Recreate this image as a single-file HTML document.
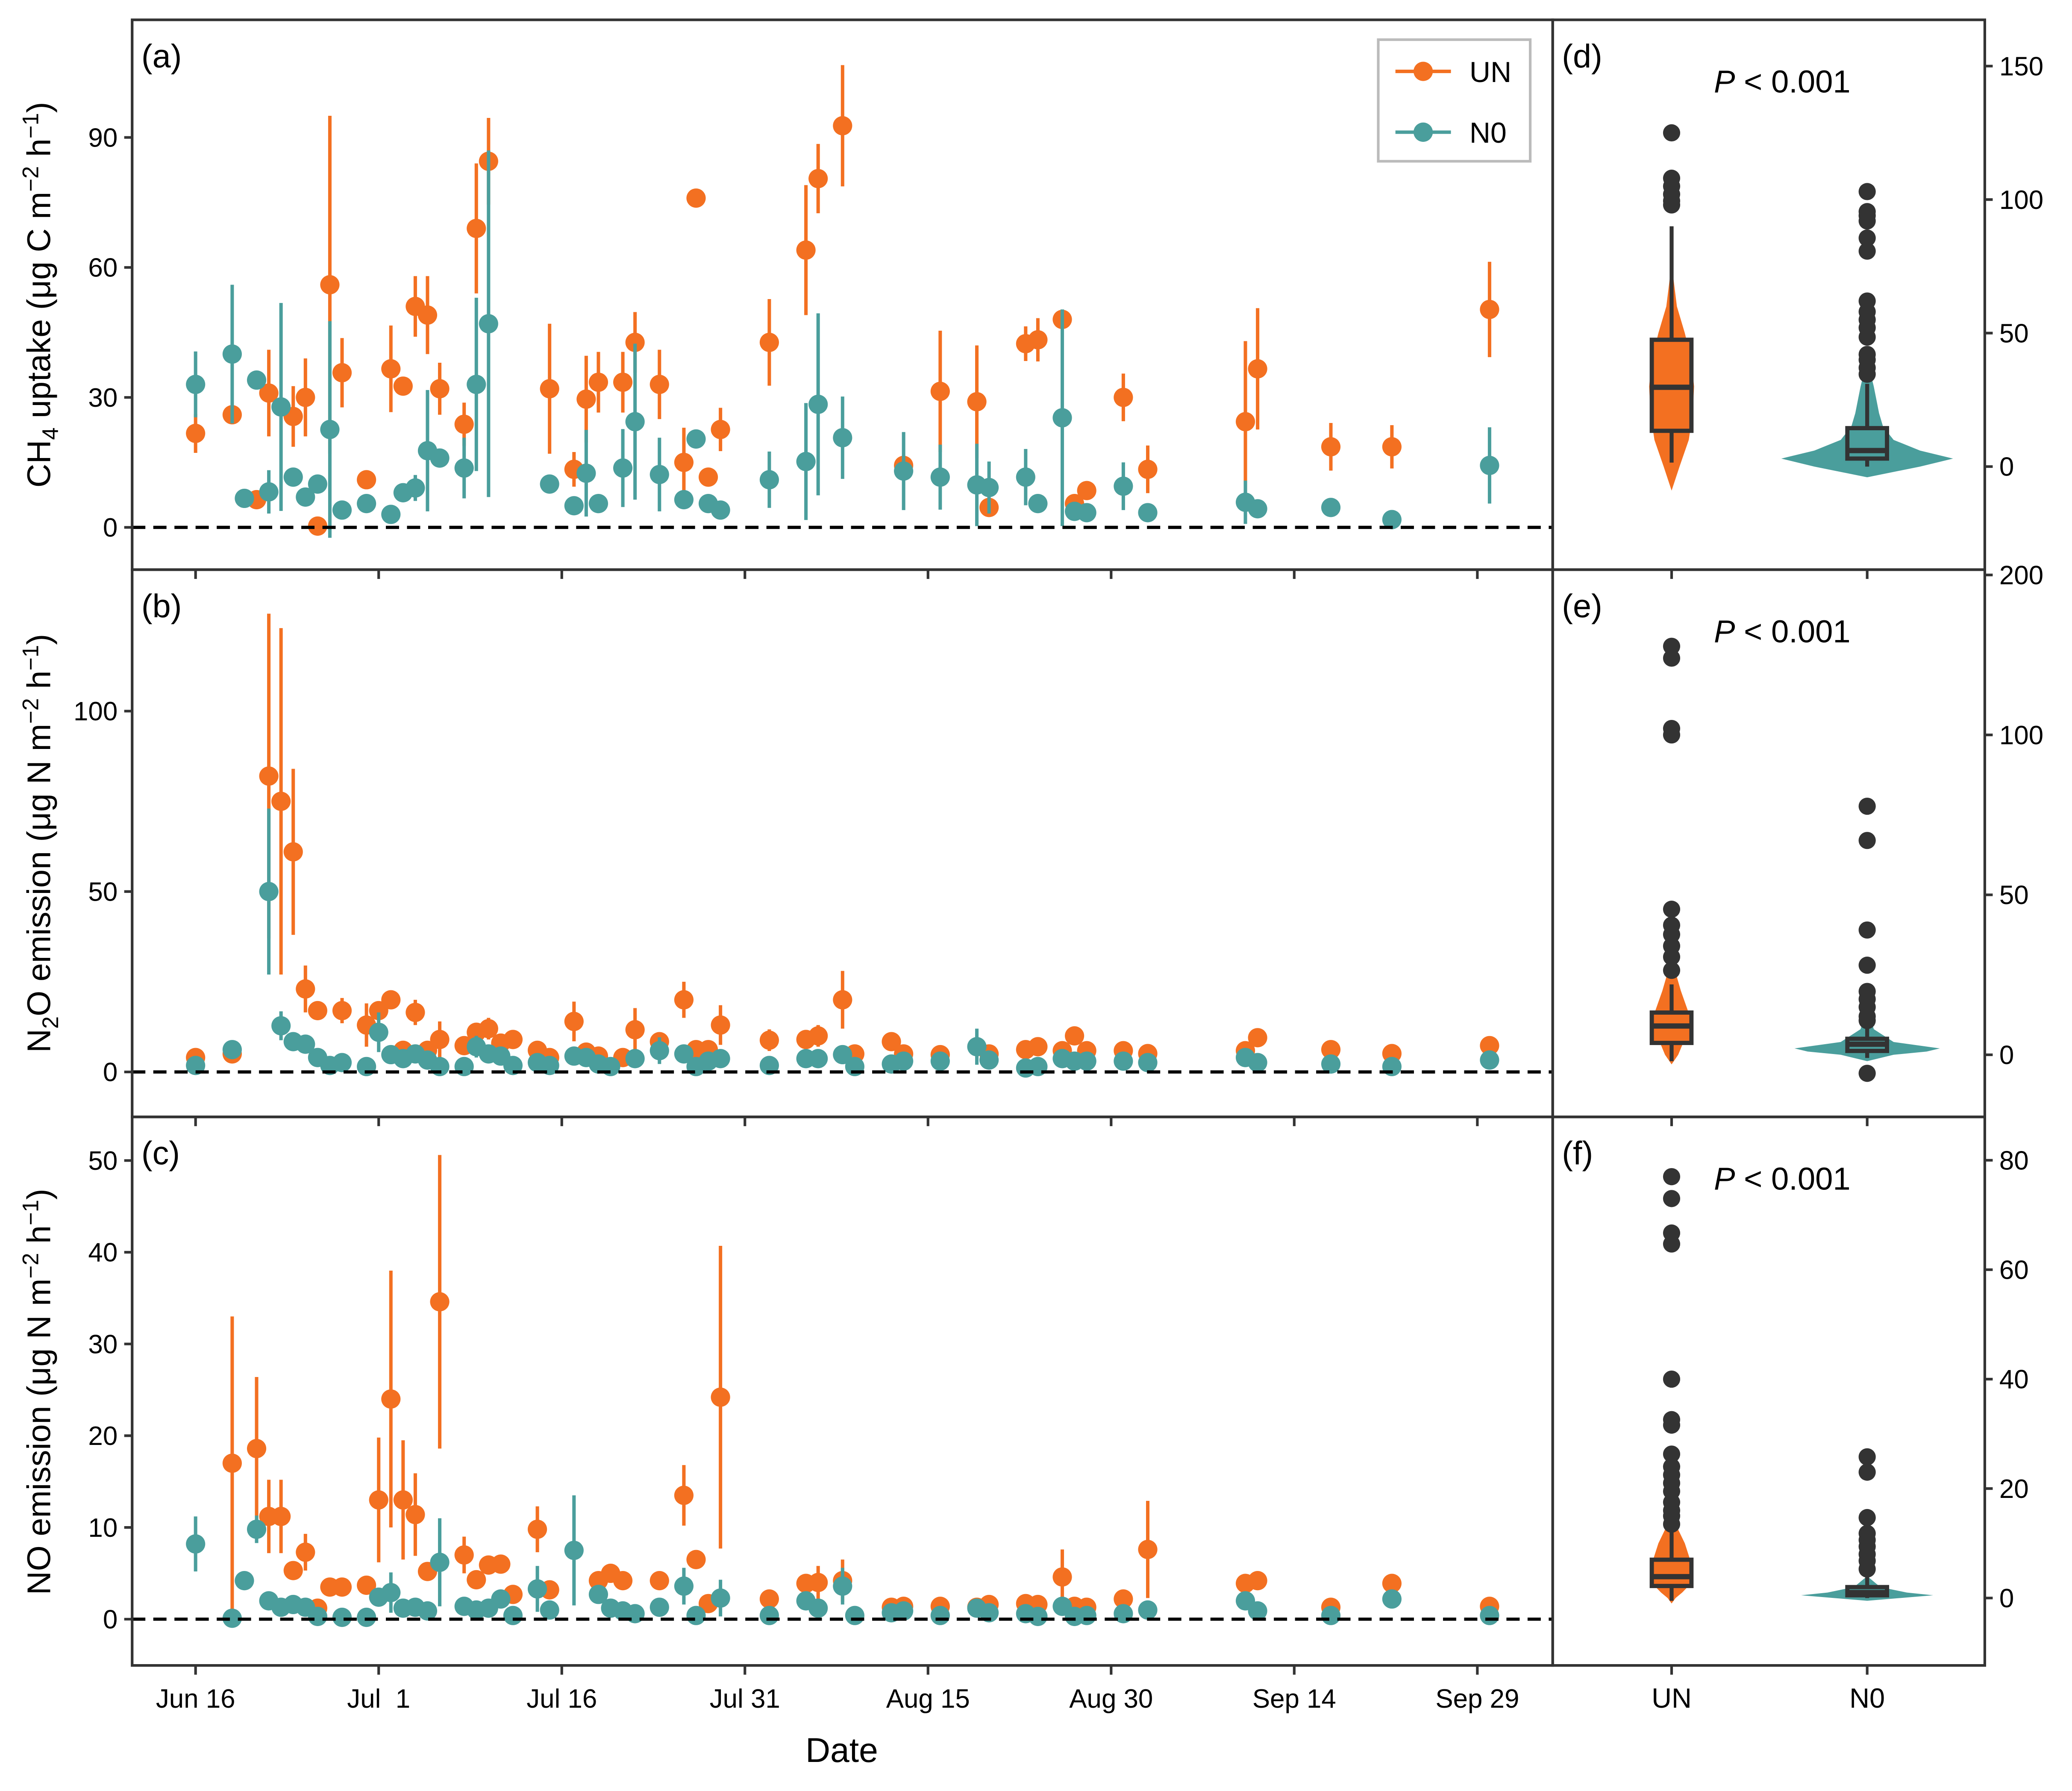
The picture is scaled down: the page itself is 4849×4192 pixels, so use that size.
<!DOCTYPE html>
<html><head><meta charset="utf-8">
<style>
html,body{margin:0;padding:0;background:#fff;}
svg{display:block;}
text{font-family:"Liberation Sans",Arial,sans-serif;fill:#000;}
.pre{white-space:pre;}
</style></head>
<body>
<svg id="chart" width="4849" height="4192" viewBox="0 0 1568 1355" preserveAspectRatio="none" xmlns="http://www.w3.org/2000/svg">
<rect x="0" y="0" width="1568" height="1355" fill="#fff"/>
</svg>
<script>
// ---------- DATA ----------
const xTickLabels = ["Jun 16","Jul  1","Jul 16","Jul 31","Aug 15","Aug 30","Sep 14","Sep 29"];
const xTickDays = [0,15,30,45,60,75,90,105];

const aUNdays = [0,3,5,6,8,9,10,11,12,14,16,17,18,19,20,22,23,24,29,31,32,33,35,36,38,40,41,42,43,47,50,51,53,58,61,64,65,68,69,71,72,73,76,78,86,87,93,98,106];
const aUNvals = [21.7,26,6.4,31,25.6,30,0.3,56,35.7,11,36.6,32.6,51,49,32,23.8,69,84.5,32,13.4,29.6,33.5,33.5,42.7,33,15,76,11.6,22.6,42.7,64,80.5,92.7,14.3,31.4,29,4.6,42.4,43.3,48,5.5,8.5,30,13.4,24.4,36.6,18.6,18.6,50.3];
const aUNerr = [4.5,0,0,10,7,9,0,39,8,0,10,0,7,9,6,5,15,10,15,4,10,7,7,7,8,8,0,0,5,10,15,8,14,0,14,13,0,4,5,0,0,0,5.5,5.5,18.6,14,5.5,5,11];
const aN0days = [0,3,4,5,6,7,8,9,10,11,12,14,16,17,18,19,20,22,23,24,29,31,32,33,35,36,38,40,41,42,43,47,50,51,53,58,61,64,65,68,69,71,72,73,76,78,86,87,93,98,106];
const aN0vals = [33,40,6.7,34,8.2,27.8,11.6,7,10,22.6,4,5.5,3,8,9.1,17.7,16,13.7,33,47,10,5,12.5,5.5,13.7,24.4,12.2,6.4,20.4,5.5,4,11,15.2,28.4,20.7,13,11.6,9.8,9.2,11.6,5.5,25.3,3.7,3.4,9.5,3.4,5.8,4.3,4.6,1.8,14.3];
const aN0err = [7.6,16,0,0,5,24,0,0,0,25,0,0,0,0,3,14,0,7,20,40,0,0,10,0,9,18,8.5,0,0,0,0,6.5,13.5,21,9.5,9,7.5,9.5,6,6.5,0,25,0,0,5.5,0,5,0,0,0,8.8];

const bUNdays = [0,3,6,7,8,9,10,12,14,15,16,17,18,19,20,22,23,24,25,26,28,29,31,32,33,35,36,38,40,41,42,43,47,50,51,53,54,57,58,61,65,68,69,71,72,73,76,78,86,87,93,98,106];
const bUNvals = [4,5,82,75,61,23,17,17,13,17,20,6,16.5,6,9,7.3,11,12,8,9,6,4,14,5.5,4.4,4,11.7,8.4,20,6.2,6.2,13,8.8,9,10,20,5,8.4,5,4.8,5,6.2,7,5.9,10,5.9,5.9,5.1,5.9,9.5,6.2,5.1,7.3];
const bUNerr = [0,0,45,48,23,6.5,0,3.5,6,0,0,0,3.5,0,5,0,0,3,0,0,0,0,5.5,0,0,0,6,0,5,0,0,5.5,3,0,3,8,0,0,0,0,0,0,0,0,0,0,0,0,0,0,0,0,0];
const bN0days = [0,3,6,7,8,9,10,11,12,14,15,16,17,18,19,20,22,23,24,25,26,28,29,31,32,33,34,36,38,40,41,42,43,47,50,51,53,54,57,58,61,64,65,68,69,71,72,73,76,78,86,87,93,98,106];
const bN0vals = [1.8,6.2,50,12.8,8.4,7.7,4,1.8,2.6,1.5,11,4.8,3.7,5,3.3,1.5,1.5,7,5,4.4,1.8,2.6,1.8,4.4,4,2.2,1.5,3.7,5.9,5,1.5,3,3.7,1.8,3.7,3.7,4.8,1.5,2.2,3,3,7,3.3,1.1,1.5,3.7,3,3,3,2.6,4,2.6,2.2,1.5,3.3];
const bN0err = [0,2,23,4,0,0,0,0,0,0,5.5,0,0,0,0,0,0,3,0,0,0,0,0,0,0,0,0,0,3.7,0,0,0,0,0,0,0,0,0,0,0,0,5,0,0,0,0,0,0,0,0,0,0,0,0,0];

const cUNdays = [3,5,6,7,8,9,10,11,12,14,15,16,17,18,19,20,22,23,24,25,26,28,29,33,34,35,38,40,41,42,43,47,50,51,53,57,58,61,64,65,68,69,71,72,73,76,78,86,87,93,98,106];
const cUNvals = [17,18.6,11.2,11.2,5.3,7.3,1.2,3.5,3.5,3.7,13,24,13,11.4,5.2,34.6,7,4.3,5.9,6,2.7,9.8,3.2,4.2,5,4.2,4.2,13.5,6.5,1.7,24.2,2.2,3.9,4,4.2,1.3,1.4,1.4,1.3,1.6,1.7,1.6,4.6,1.4,1.3,2.2,7.6,3.9,4.2,1.3,3.9,1.4];
const cUNerr = [16,7.8,4,4,0,2,0,0,0,0,6.8,14,6.5,4.5,0,16,2,0,1,1,0,2.5,0,0,0,0,0,3.3,0,0,16.5,0,0,1.8,2.3,0,0,0,0,0,0,0,3,0,0,0,5.3,0,0,0,0,0];
const cN0days = [0,3,4,5,6,7,8,9,10,12,14,15,16,17,18,19,20,22,23,24,25,26,28,29,31,33,34,35,36,38,40,41,43,47,50,51,53,54,57,58,61,64,65,68,69,71,72,73,76,78,86,87,93,98,106];
const cN0vals = [8.2,0.1,4.2,9.8,2,1.3,1.6,1.3,0.3,0.2,0.2,2.4,2.9,1.2,1.3,0.9,6.2,1.4,1,1.2,2.2,0.4,3.3,1,7.5,2.7,1.2,0.9,0.6,1.3,3.6,0.4,2.3,0.4,2,1.2,3.6,0.4,0.7,0.9,0.4,1.2,0.7,0.6,0.3,1.4,0.3,0.4,0.6,1,2,0.9,0.4,2.2,0.4];
const cN0err = [3,0,0,1.5,0,0,0,0,0,0,0,0,2.2,0,0,0,4.8,0,0,0,0,0,2.5,0,6,0,0,0,0,0,2,0,2,0,0,0,2,0,0,0,0,0,0,0,0,0,0,0,0,0,0,0,0,0,0];

// box summaries: [whiskerLow, q1, median, q3, whiskerHigh]
const dUNbox = [1.5,13.4,29.7,47.5,90];
const dN0box = [0,3,6,14.4,31];
const eUNbox = [-2,3.7,9,13.2,22];
const eN0box = [-1,1.2,3.3,5,9];
const fUNbox = [-0.5,2.2,3.9,7,12];
const fN0box = [0,0.5,1,2,4];
// violin profiles: values and half-widths (density shape)
const dUNvioV = [-9,0,10,20,30,40,50,60,76];
const dUNvioW = [0,6,13,16,17,15,10,4,0];
const dN0vioV = [-4,0,3,6,10,15,20,30,40];
const dN0vioW = [0,40,65,40,20,12,9,5,0];
const eUNvioV = [-3,0,5,9,13,20,30];
const eUNvioW = [0,5,10,14,13,7,0];
const eN0vioV = [-2,0,1,2,4,8,15];
const eN0vioW = [0,20,45,55,20,5,0];
const fUNvioV = [-1,0,1,2,4,7,10,15];
const fUNvioW = [0,3,8,12,14,14,10,0];
const fN0vioV = [-0.5,0,0.5,1,2,4];
const fN0vioW = [0,25,50,30,10,0];
// outliers
const dUNout = [125,108,105,102,99.5,98];
const dN0out = [103,95.5,94,92,85.6,80.7,62,58,55,52,48.5,42,40,37,34.6];
const eUNout = [127.7,124,102,100,45.5,40.5,37.6,34,30.6,26.4];
const eN0out = [77.7,67,39,28,19.8,17.4,14.9,12,10.7,-5.8];
const fUNout = [77,73,66.7,64.7,40,32.6,31.6,26.3,24,22.5,21,19.5,17.5,16,15,13.5];
const fN0out = [25.8,23,14.7,11.8,10.6,9.4,8,6.8,5.3];

const leftTicks = {a:[0,30,60,90], b:[0,50,100], c:[0,10,20,30,40,50]};
const rightTicks = {d:[0,50,100,150], e:[0,50,100], f:[0,20,40,60,80]};

// ---------- DRAW ----------
const NS="http://www.w3.org/2000/svg";
const svg=document.getElementById('chart');
const ORANGE="#F37021", TEAL="#4A9E9C", DARK="#333333";
function el(tag,attrs,parent){const e=document.createElementNS(NS,tag);for(const k in attrs)e.setAttribute(k,attrs[k]);(parent||svg).appendChild(e);return e;}
const X0=148, PXDAY=9.238;
function xDay(d){return X0+d*PXDAY;}
const L=100,R=1175,RR=1502;
const panels={
  a:{top:15,bot:431,y0:399,k:3.278},
  b:{top:431,bot:845,y0:811,k:2.73},
  c:{top:845,bot:1260,y0:1225,k:6.94}
};
const rpanels={
  d:{top:15,bot:431,y0:353,k:2.02},
  e:{top:431,bot:845,y0:798,k:2.42},
  f:{top:845,bot:1260,y0:1209,k:4.14}
};
const xUN=1265,xN0=1413;

function drawScatter(p,name,days,vals,errs,color){
  const g=el('g',{});
  
  
  const yv=v=>p.y0-v*p.k;
  for(let i=0;i<days.length;i++){
    if(errs[i]>0){
      const ln=el('line',{x1:xDay(days[i]),x2:xDay(days[i]),y1:yv(vals[i]-errs[i]),y2:yv(vals[i]+errs[i]),stroke:color,'stroke-width':2.6},g);
      
      
    }
  }
  for(let i=0;i<days.length;i++){
    const c=el('circle',{cx:xDay(days[i]),cy:yv(vals[i]),r:7.3,fill:color},g);
    
    
  }
}

function panelFrame(key,p,label){
  const z=el('line',{x1:L,x2:R,y1:p.y0,y2:p.y0,stroke:'#000','stroke-width':2.4,'stroke-dasharray':'10,6'});
  
  
  leftTicks[key].forEach(v=>{
    const y=p.y0-v*p.k;
    el('line',{x1:L-6,x2:L,y1:y,y2:y,stroke:DARK,'stroke-width':2});
    const t=el('text',{x:L-11,y:y+7,'font-size':20,'text-anchor':'end'});
    t.textContent=v;
    
    
  });
  xTickDays.forEach(d=>{el('line',{x1:xDay(d),x2:xDay(d),y1:p.bot,y2:p.bot+7,stroke:DARK,'stroke-width':2});});
  const lt=el('text',{x:107,y:p.top+36,'font-size':25});
  lt.textContent=label;
  
  
}

drawScatter(panels.a,'ch4-un',aUNdays,aUNvals,aUNerr,ORANGE);
drawScatter(panels.a,'ch4-n0',aN0days,aN0vals,aN0err,TEAL);
drawScatter(panels.b,'n2o-un',bUNdays,bUNvals,bUNerr,ORANGE);
drawScatter(panels.b,'n2o-n0',bN0days,bN0vals,bN0err,TEAL);
drawScatter(panels.c,'no-un',cUNdays,cUNvals,cUNerr,ORANGE);
drawScatter(panels.c,'no-n0',cN0days,cN0vals,cN0err,TEAL);
panelFrame('a',panels.a,'(a)');
panelFrame('b',panels.b,'(b)');
panelFrame('c',panels.c,'(c)');

function drawViolinBox(p,key,xc,vioV,vioW,box,out,color){
  const yv=v=>p.y0-v*p.k;
  let d='M'+xc+','+yv(vioV[0]);
  for(let i=0;i<vioV.length;i++) d+=' L'+(xc+vioW[i])+','+yv(vioV[i]);
  for(let i=vioV.length-1;i>=0;i--) d+=' L'+(xc-vioW[i])+','+yv(vioV[i]);
  d+='Z';
  const vp=el('path',{d:d,fill:color});
  
  
  const w=el('line',{x1:xc,x2:xc,y1:yv(box[0]),y2:yv(box[4]),stroke:DARK,'stroke-width':3});
  
  
  const b=el('rect',{x:xc-15,y:yv(box[3]),width:30,height:Math.max(2,yv(box[1])-yv(box[3])),fill:color,stroke:DARK,'stroke-width':3.2});
  
  
  const m=el('line',{x1:xc-15,x2:xc+15,y1:yv(box[2]),y2:yv(box[2]),stroke:DARK,'stroke-width':4});
  
  
  out.forEach(v=>{
    const c=el('ellipse',{cx:xc,cy:yv(v),rx:6.5,ry:6.5,fill:DARK});
    
    
  });
}
drawViolinBox(rpanels.d,'ch4-un',xUN,dUNvioV,dUNvioW,dUNbox,dUNout,ORANGE);
drawViolinBox(rpanels.d,'ch4-n0',xN0,dN0vioV,dN0vioW,dN0box,dN0out,TEAL);
drawViolinBox(rpanels.e,'n2o-un',xUN,eUNvioV,eUNvioW,eUNbox,eUNout,ORANGE);
drawViolinBox(rpanels.e,'n2o-n0',xN0,eN0vioV,eN0vioW,eN0box,eN0out,TEAL);
drawViolinBox(rpanels.f,'no-un',xUN,fUNvioV,fUNvioW,fUNbox,fUNout,ORANGE);
drawViolinBox(rpanels.f,'no-n0',xN0,fN0vioV,fN0vioW,fN0box,fN0out,TEAL);

const rl={d:'(d)',e:'(e)',f:'(f)'};
for(const k in rpanels){
  const p=rpanels[k];
  rightTicks[k].forEach(v=>{
    const y=p.y0-v*p.k;
    el('line',{x1:RR,x2:RR+6,y1:y,y2:y,stroke:DARK,'stroke-width':2});
    const t=el('text',{x:RR+11,y:y+7,'font-size':20});
    t.textContent=v;
    
    
  });
  [xUN,xN0].forEach(x=>el('line',{x1:x,x2:x,y1:p.bot,y2:p.bot+7,stroke:DARK,'stroke-width':2}));
  const lt=el('text',{x:1182,y:p.top+36,'font-size':25});
  lt.textContent=rl[k];
  
  
  const pt=el('text',{x:1297,y:p.top+55,'font-size':24});
  pt.innerHTML='<tspan font-style="italic">P</tspan> &lt; 0.001';
  
  
}
el('line',{x1:RR,x2:RR+6,y1:435,y2:435,stroke:DARK,'stroke-width':2});
const t200=el('text',{x:RR+11,y:442,'font-size':20});t200.textContent='200';



[[L,15,R-L,416],[L,431,R-L,414],[L,845,R-L,415],[R,15,RR-R,416],[R,431,RR-R,414],[R,845,RR-R,415]].forEach(r=>{
  const f=el('rect',{x:r[0],y:r[1],width:r[2],height:r[3],fill:'none',stroke:DARK,'stroke-width':2});
  
  
});

xTickDays.forEach((d,i)=>{
  const t=el('text',{x:xDay(d),y:1292,'font-size':20,'text-anchor':'middle','class':'pre'});
  t.textContent=xTickLabels[i];
  
  
});
[['UN',xUN],['N0',xN0]].forEach(a=>{
  const t=el('text',{x:a[1],y:1292,'font-size':21,'text-anchor':'middle'});
  t.textContent=a[0];
  
  
});
const xt=el('text',{x:637,y:1333,'font-size':26,'text-anchor':'middle'});
xt.textContent='Date';



function ytitle(cy,html,name){
  const t=el('text',{x:0,y:0,'font-size':25,'text-anchor':'middle',transform:'translate(38,'+cy+') rotate(-90)'});
  t.innerHTML=html;
  
  
}
ytitle(223,'CH<tspan font-size="17" dy="6">4</tspan><tspan dy="-6"> uptake (μg C m</tspan><tspan font-size="17" dy="-9">−2</tspan><tspan dy="9"> h</tspan><tspan font-size="17" dy="-9">−1</tspan><tspan dy="9">)</tspan>','y-axis-title-ch4');
ytitle(638,'N<tspan font-size="17" dy="6">2</tspan><tspan dy="-6">O emission (μg N m</tspan><tspan font-size="17" dy="-9">−2</tspan><tspan dy="9"> h</tspan><tspan font-size="17" dy="-9">−1</tspan><tspan dy="9">)</tspan>','y-axis-title-n2o');
ytitle(1053,'NO emission (μg N m<tspan font-size="17" dy="-9">−2</tspan><tspan dy="9"> h</tspan><tspan font-size="17" dy="-9">−1</tspan><tspan dy="9">)</tspan>','y-axis-title-no');

const lg=el('g',{});


el('rect',{x:1043,y:30,width:115,height:92,fill:'#fff',stroke:'#bbb','stroke-width':2},lg);
[['UN',ORANGE,54],['N0',TEAL,100]].forEach(r=>{
  const e=el('g',{},lg);
  
  
  el('line',{x1:1056,x2:1098,y1:r[2],y2:r[2],stroke:r[1],'stroke-width':2.6},e);
  el('circle',{cx:1077,cy:r[2],r:7.3,fill:r[1]},e);
  const t=el('text',{x:1112,y:r[2]+8,'font-size':22},e);t.textContent=r[0];
});
</script>
</body></html>
